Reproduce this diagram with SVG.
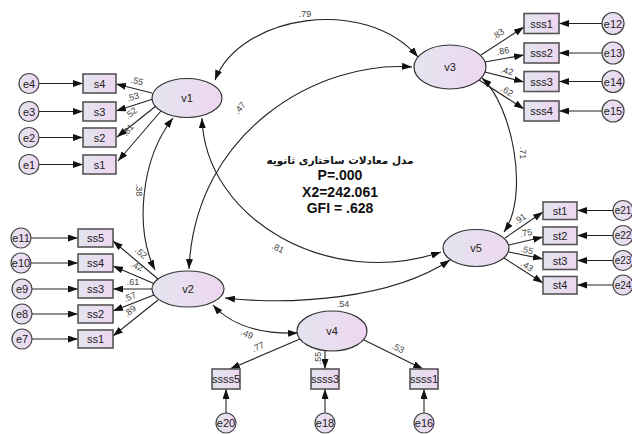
<svg xmlns="http://www.w3.org/2000/svg" width="632" height="434" viewBox="0 0 632 434">
<defs>
<linearGradient id="g" x1="0" y1="0" x2="1" y2="0">
<stop offset="0" stop-color="#e3e5ef"/>
<stop offset="1" stop-color="#eed6f0"/>
</linearGradient>
<marker id="a" viewBox="0 0 10 7" refX="10" refY="3.5" markerWidth="10" markerHeight="7" markerUnits="userSpaceOnUse" orient="auto-start-reverse">
<path d="M0,0 L10,3.5 L0,7 z" fill="#111"/>
</marker>
<style>
.lat{fill:url(#g);stroke:#333;stroke-width:1.2}
.obs{fill:url(#g);stroke:#555;stroke-width:1.6}
.err{fill:url(#g);stroke:#444;stroke-width:1.2}
.t{font-family:"Liberation Sans",Arial,sans-serif;font-size:11px;fill:#222;text-anchor:middle;dominant-baseline:central}
.ts{font-family:"Liberation Sans",Arial,sans-serif;font-size:10px;fill:#222;text-anchor:middle;dominant-baseline:central}
.n{font-family:"Liberation Sans",Arial,sans-serif;font-size:9px;fill:#444;text-anchor:middle;dominant-baseline:central}
.c{fill:none;stroke:#222;stroke-width:1.1;marker-end:url(#a)}
.d{fill:none;stroke:#222;stroke-width:1.1;marker-end:url(#a);marker-start:url(#a)}
.h{font-family:"Liberation Sans",Arial,sans-serif;font-size:14px;font-weight:bold;fill:#111;text-anchor:middle}
</style>
</defs>
<rect width="632" height="434" fill="#fff"/>

<g id="connectors">
<path class="d" d="M215,80 C240,15 365,-5 418,57"/>
<path class="d" d="M412,67 C320,60 195,130 189,269"/>
<path class="d" d="M202,118 C205,220 330,290 441,252"/>
<path class="d" d="M173,118 C140,160 135,230 155,270"/>
<path class="d" d="M482,78 C512,105 530,195 504,232"/>
<path class="d" d="M225,298 C290,305 390,300 450,260"/>
<path class="d" d="M213,305 Q240,335 298,333"/>
<path class="c" d="M152,93 L116,84"/>
<path class="c" d="M153,99 L116,111"/>
<path class="c" d="M156,106 L117,137"/>
<path class="c" d="M161,111 L118,161"/>
<path class="c" d="M158,279 L113,241"/>
<path class="c" d="M155,284 L113,266"/>
<path class="c" d="M152,289 L113,289"/>
<path class="c" d="M154,295 L113,311"/>
<path class="c" d="M158,300 L113,336"/>
<path class="c" d="M481,55 L524,27"/>
<path class="c" d="M485,62 L524,55"/>
<path class="c" d="M485,72 L524,82"/>
<path class="c" d="M479,80 L524,109"/>
<path class="c" d="M505,238 L543,212"/>
<path class="c" d="M509,245 L543,237"/>
<path class="c" d="M509,252 L543,259"/>
<path class="c" d="M504,258 L543,283"/>
<path class="c" d="M300,339 L230,369"/>
<path class="c" d="M325,351 L325,369"/>
<path class="c" d="M364,340 L423,369"/>
<path class="c" d="M39,83.5 L83,83.5"/>
<path class="c" d="M39,111.5 L83,111.5"/>
<path class="c" d="M39,137.5 L83,137.5"/>
<path class="c" d="M39,164.5 L83,164.5"/>
<path class="c" d="M31,238 L78,238"/>
<path class="c" d="M31,263 L78,263"/>
<path class="c" d="M32,289 L78,289"/>
<path class="c" d="M32,314 L78,314"/>
<path class="c" d="M32,339 L78,339"/>
<path class="c" d="M602,23.5 L559,23.5"/>
<path class="c" d="M602,53 L559,53"/>
<path class="c" d="M602,81.5 L559,81.5"/>
<path class="c" d="M602,111 L559,111"/>
<path class="c" d="M613,210.5 L577,210.5"/>
<path class="c" d="M613,235.5 L577,235.5"/>
<path class="c" d="M613,260.5 L577,260.5"/>
<path class="c" d="M613,285 L577,285"/>
<path class="c" d="M226,413 L226,389"/>
<path class="c" d="M325,413 L325,389"/>
<path class="c" d="M424,413 L424,389"/>
</g>

<g id="labels">
<text class="n" x="305" y="14">.79</text>
<text class="n" transform="translate(240,108) rotate(-50)">.47</text>
<text class="n" transform="translate(139,190) rotate(90)">.38</text>
<text class="n" transform="translate(278,248) rotate(25)">.81</text>
<text class="n" transform="translate(523,153) rotate(90)">.71</text>
<text class="n" x="343" y="304">.54</text>
<text class="n" transform="translate(247,334) rotate(25)">.49</text>
<text class="n" transform="translate(137,81) rotate(14)">.55</text>
<text class="n" transform="translate(133,97) rotate(-18)">.53</text>
<text class="n" transform="translate(131,113) rotate(-38)">.52</text>
<text class="n" transform="translate(128,130) rotate(-49)">.81</text>
<text class="n" transform="translate(141,253) rotate(40)">.52</text>
<text class="n" transform="translate(137,266) rotate(25)">.42</text>
<text class="n" x="133" y="282">.61</text>
<text class="n" transform="translate(130,297) rotate(-25)">.57</text>
<text class="n" transform="translate(130,311) rotate(-40)">.89</text>
<text class="n" transform="translate(498,34) rotate(-33)">.83</text>
<text class="n" transform="translate(503,51) rotate(-10)">.86</text>
<text class="n" transform="translate(507,71) rotate(15)">.42</text>
<text class="n" transform="translate(507,91) rotate(33)">.62</text>
<text class="n" transform="translate(520,219) rotate(-35)">.91</text>
<text class="n" transform="translate(526,233) rotate(-10)">.75</text>
<text class="n" transform="translate(527,250) rotate(15)">.55</text>
<text class="n" transform="translate(527,266) rotate(33)">.43</text>
<text class="n" transform="translate(258,347) rotate(-23)">.77</text>
<text class="n" transform="translate(318,358) rotate(-90)">.55</text>
<text class="n" transform="translate(398,348) rotate(27)">.53</text>
</g>

<g id="title">
<text x="340" y="164" style="font-family:'DejaVu Sans','Liberation Sans',sans-serif;font-size:10.5px;font-weight:bold;fill:#111;text-anchor:middle">مدل معادلات ساختاری ثانویه</text>
<text class="h" x="340" y="180">P=.000</text>
<text class="h" x="340" y="197">X2=242.061</text>
<text class="h" x="340" y="213">GFI = .628</text>
</g>

<g id="v1"><ellipse class="lat" cx="187" cy="98" rx="35" ry="19.5"/><text class="t" x="187" y="98">v1</text></g>
<g id="v2"><ellipse class="lat" cx="188" cy="289" rx="36" ry="18"/><text class="t" x="188" y="289">v2</text></g>
<g id="v3"><ellipse class="lat" cx="450" cy="67" rx="36" ry="22"/><text class="t" x="450" y="67">v3</text></g>
<g id="v4"><ellipse class="lat" cx="332" cy="331" rx="35" ry="20"/><text class="t" x="332" y="331">v4</text></g>
<g id="v5"><ellipse class="lat" cx="476" cy="248" rx="33" ry="18.5"/><text class="t" x="476" y="248">v5</text></g>

<g id="s4"><rect class="obs" x="83" y="74" width="33" height="19"/><text class="t" x="99.5" y="83.5">s4</text></g>
<g id="s3"><rect class="obs" x="83" y="102" width="33" height="19"/><text class="t" x="99.5" y="111.5">s3</text></g>
<g id="s2"><rect class="obs" x="83" y="128" width="33" height="19"/><text class="t" x="99.5" y="137.5">s2</text></g>
<g id="s1"><rect class="obs" x="83" y="155" width="33" height="19"/><text class="t" x="99.5" y="164.5">s1</text></g>

<g id="e4"><circle class="err" cx="29" cy="83.5" r="10"/><text class="t" x="29" y="83.5">e4</text></g>
<g id="e3"><circle class="err" cx="29" cy="111.5" r="10"/><text class="t" x="29" y="111.5">e3</text></g>
<g id="e2"><circle class="err" cx="29" cy="137.5" r="10"/><text class="t" x="29" y="137.5">e2</text></g>
<g id="e1"><circle class="err" cx="29" cy="164.5" r="10"/><text class="t" x="29" y="164.5">e1</text></g>

<g id="ss5"><rect class="obs" x="78" y="229" width="35" height="18"/><text class="t" x="95.5" y="238">ss5</text></g>
<g id="ss4"><rect class="obs" x="78" y="254" width="35" height="18"/><text class="t" x="95.5" y="263">ss4</text></g>
<g id="ss3"><rect class="obs" x="78" y="280" width="35" height="18"/><text class="t" x="95.5" y="289">ss3</text></g>
<g id="ss2"><rect class="obs" x="78" y="305" width="35" height="18"/><text class="t" x="95.5" y="314">ss2</text></g>
<g id="ss1"><rect class="obs" x="78" y="330" width="35" height="18"/><text class="t" x="95.5" y="339">ss1</text></g>

<g id="e11"><circle class="err" cx="21" cy="238" r="10"/><text class="t" x="21" y="238">e11</text></g>
<g id="e10"><circle class="err" cx="21" cy="263" r="10"/><text class="t" x="21" y="263">e10</text></g>
<g id="e9"><circle class="err" cx="22" cy="289" r="10"/><text class="t" x="22" y="289">e9</text></g>
<g id="e8"><circle class="err" cx="22" cy="314" r="10"/><text class="t" x="22" y="314">e8</text></g>
<g id="e7"><circle class="err" cx="22" cy="339" r="10"/><text class="t" x="22" y="339">e7</text></g>

<g id="sss1"><rect class="obs" x="524" y="13.5" width="35" height="20"/><text class="t" x="541.5" y="23.5">sss1</text></g>
<g id="sss2"><rect class="obs" x="524" y="43" width="35" height="20"/><text class="t" x="541.5" y="53">sss2</text></g>
<g id="sss3"><rect class="obs" x="524" y="71.5" width="35" height="20"/><text class="t" x="541.5" y="81.5">sss3</text></g>
<g id="sss4"><rect class="obs" x="524" y="101" width="35" height="20"/><text class="t" x="541.5" y="111">sss4</text></g>

<g id="e12"><circle class="err" cx="613" cy="23.5" r="11"/><text class="t" x="613" y="23.5">e12</text></g>
<g id="e13"><circle class="err" cx="613" cy="53" r="11"/><text class="t" x="613" y="53">e13</text></g>
<g id="e14"><circle class="err" cx="613" cy="81.5" r="11"/><text class="t" x="613" y="81.5">e14</text></g>
<g id="e15"><circle class="err" cx="613" cy="111" r="11"/><text class="t" x="613" y="111">e15</text></g>

<g id="st1"><rect class="obs" x="543" y="202" width="34" height="17.5"/><text class="t" x="560" y="210.5">st1</text></g>
<g id="st2"><rect class="obs" x="543" y="227" width="34" height="17.5"/><text class="t" x="560" y="235.5">st2</text></g>
<g id="st3"><rect class="obs" x="543" y="252" width="34" height="17.5"/><text class="t" x="560" y="260.5">st3</text></g>
<g id="st4"><rect class="obs" x="543" y="276.5" width="34" height="17.5"/><text class="t" x="560" y="285">st4</text></g>

<g id="e21"><circle class="err" cx="623" cy="210.5" r="10"/><text class="ts" x="623" y="210.5">e21</text></g>
<g id="e22"><circle class="err" cx="623" cy="235.5" r="10"/><text class="ts" x="623" y="235.5">e22</text></g>
<g id="e23"><circle class="err" cx="623" cy="260.5" r="10"/><text class="ts" x="623" y="260.5">e23</text></g>
<g id="e24"><circle class="err" cx="623" cy="285" r="10"/><text class="ts" x="623" y="285">e24</text></g>

<g id="ssss5"><rect class="obs" x="212" y="369" width="28" height="20"/><text class="t" x="226" y="379">ssss5</text></g>
<g id="ssss3"><rect class="obs" x="311" y="369" width="28" height="20"/><text class="t" x="325" y="379">ssss3</text></g>
<g id="ssss1"><rect class="obs" x="410" y="369" width="28" height="20"/><text class="t" x="424" y="379">ssss1</text></g>

<g id="e20"><circle class="err" cx="226" cy="423" r="10"/><text class="t" x="226" y="423">e20</text></g>
<g id="e18"><circle class="err" cx="325" cy="423" r="10"/><text class="t" x="325" y="423">e18</text></g>
<g id="e16"><circle class="err" cx="424" cy="423" r="10"/><text class="t" x="424" y="423">e16</text></g>
</svg>
